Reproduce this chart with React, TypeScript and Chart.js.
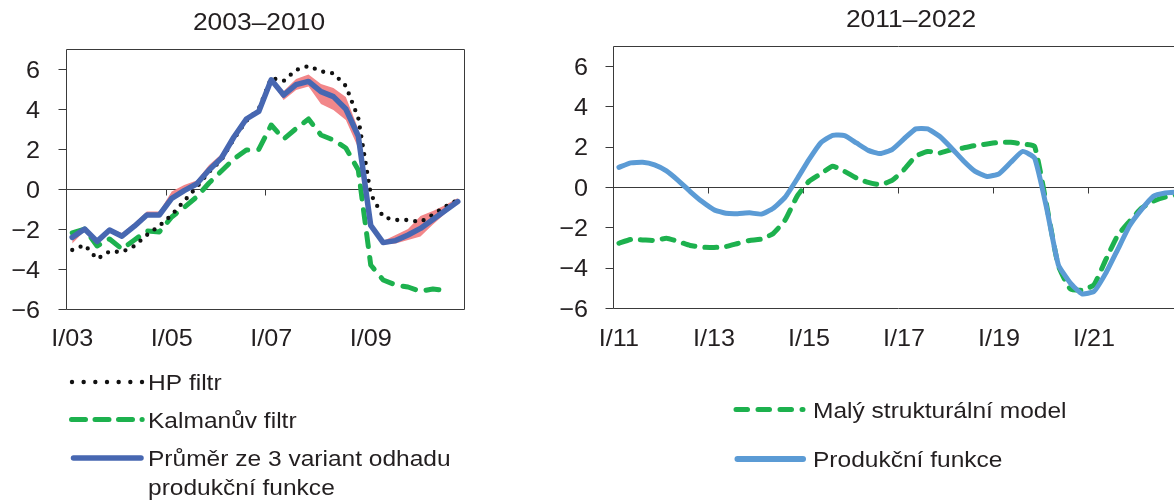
import { useEffect, useRef } from 'react';
import { Chart, registerables } from 'chart.js';

Chart.register(...registerables);

const FONT = '"Liberation Sans", Arial, Helvetica, sans-serif';
const TEXT = '#231F20';
const AXIS = '#3A3A3A';

const BLUE_DARK = '#4767B1';
const BLUE_LIGHT = '#5B9BD5';
const GREEN = '#1DB14E';
const BAND = '#F2878A';
const DOTS = '#111111';

// ---------- categories & ticks ----------
const QUARTERS = ['I', 'II', 'III', 'IV'];
const YEARS_LEFT = ['03', '04', '05', '06', '07', '08', '09', '10'];
const YEARS_RIGHT = ['11', '12', '13', '14', '15', '16', '17', '18', '19', '20', '21', '22'];
const LEFT_CATEGORIES = YEARS_LEFT.flatMap((y) => QUARTERS.map((q) => `${q}/${y}`));
const RIGHT_CATEGORIES = YEARS_RIGHT.flatMap((y) => QUARTERS.map((q) => `${q}/${y}`));

const Y_TICKS = [-6, -4, -2, 0, 2, 4, 6];
const Y_MIN = -6;
const Y_MAX = 7;
const X_LABEL_STEP = 8;

const LEFT_TITLE = '2003–2010';
const RIGHT_TITLE = '2011–2022';

// ---------- left panel series (2003–2010) ----------
const LEFT_HP = [
  -3.05, -2.8, -3.5, -3.12, -3.15, -2.85, -2.3, -1.85,
  -1.3, -0.6, 0.08, 0.85, 1.45, 2.5, 3.4, 4.0,
  5.55, 5.4, 5.95, 6.15, 5.88, 5.78, 5.15, 3.55,
  -0.25, -1.4, -1.55, -1.55, -1.65, -1.28, -0.88, -0.55,
];
const LEFT_KALMAN = [
  -2.2, -2.0, -2.85, -2.5, -3.0, -2.55, -2.1, -2.15,
  -1.4, -0.92, -0.4, 0.3, 0.9, 1.5, 1.95, 1.98,
  3.2, 2.5, 3.02, 3.5, 2.7, 2.45, 2.05, 0.95,
  -3.8, -4.55, -4.8, -4.9, -5.12, -5.0, -5.08, null,
];
const LEFT_PF_AVG = [
  -2.42, -2.0, -2.62, -2.05, -2.36, -1.86, -1.3, -1.3,
  -0.47, -0.08, 0.25, 0.95, 1.55, 2.6, 3.5, 3.88,
  5.46, 4.7, 5.22, 5.38, 4.87, 4.62, 4.0, 2.65,
  -1.82, -2.68, -2.58, -2.3, -1.97, -1.52, -1.08, -0.63,
];
const LEFT_PF_MAX = [
  -2.3, -1.92, -2.55, -1.98, -2.2, -1.7, -1.12, -1.12,
  -0.12, 0.2, 0.42, 1.2, 1.75, 2.8, 3.6, 4.0,
  5.55, 4.9, 5.5, 5.72, 5.25, 5.05, 4.6, 3.0,
  -1.7, -2.6, -2.3, -2.0, -1.35, -1.1, -0.8, -0.45,
];
const LEFT_PF_MIN = [
  -2.72, -2.1, -2.72, -2.12, -2.42, -1.92, -1.38, -1.4,
  -0.55, -0.15, 0.18, 0.88, 1.48, 2.55, 3.42, 3.82,
  5.38, 4.45, 4.95, 5.12, 4.25, 3.95, 3.45, 2.05,
  -1.9, -2.78, -2.72, -2.55, -2.38, -1.78, -1.22, -0.72,
];

// ---------- right panel series (2011–2022) ----------
const RIGHT_MSM = [
  -2.79, -2.6, -2.62, -2.65, -2.54, -2.7, -2.9, -2.98,
  -3.0, -2.95, -2.8, -2.65, -2.58, -2.3, -1.63, -0.46,
  0.28, 0.66, 1.03, 0.78, 0.45, 0.23, 0.12, 0.33,
  0.86, 1.53, 1.77, 1.69, 1.86, 1.94, 2.06, 2.14,
  2.22, 2.22, 2.14, 2.02, -0.85, -3.9, -5.05, -5.12,
  -4.85, -3.6, -2.4, -1.7, -1.05, -0.7, -0.5, -0.4,
];
const RIGHT_PF = [
  0.98, 1.2, 1.23, 1.1, 0.8, 0.32, -0.22, -0.72,
  -1.12, -1.3, -1.32, -1.28, -1.34, -1.05, -0.5, 0.4,
  1.36, 2.2, 2.57, 2.55, 2.19, 1.82, 1.66, 1.86,
  2.39, 2.89, 2.89, 2.52, 1.94, 1.31, 0.78, 0.53,
  0.66, 1.23, 1.77, 1.44, -1.0, -3.85, -4.75, -5.3,
  -5.18, -4.27, -3.1, -1.92, -1.12, -0.46, -0.29, -0.25,
];

// ---------- legend texts ----------
const LEGEND_HP = 'HP filtr';
const LEGEND_KALMAN = 'Kalmanův filtr';
const LEGEND_PF_AVG = ['Průměr ze 3 variant odhadu', 'produkční funkce'];
const LEGEND_MSM = 'Malý strukturální model';
const LEGEND_PF = 'Produkční funkce';

type Align = 'left' | 'center' | 'right';

function drawText(
  ctx: CanvasRenderingContext2D,
  text: string,
  x: number,
  yCenter: number,
  size: number,
  sx: number,
  align: Align,
) {
  ctx.save();
  ctx.font = `${size}px ${FONT}`;
  ctx.fillStyle = TEXT;
  ctx.textBaseline = 'alphabetic';
  ctx.textAlign = 'left';
  const w = ctx.measureText(text).width * sx;
  let left = x;
  if (align === 'center') left = x - w / 2;
  else if (align === 'right') left = x - w;
  ctx.translate(left, yCenter + size * 0.358);
  ctx.scale(sx, 1);
  ctx.fillText(text, 0, 0);
  ctx.restore();
}

type LegendItem = {
  kind: 'dots' | 'dash' | 'solid';
  color: string;
  x1: number;
  x2: number;
  y: number;
  width: number;
  dash?: number[];
  lines: string[];
  textX: number;
  textY: number;
  lineGap: number;
};

type PanelCfg = {
  title: string;
  titleX: number;
  titleY: number;
  yLabelGap: number;
  legend: LegendItem[];
};

const TITLE_SIZE = 24;
const TITLE_SX = 1.1;
const TICK_SIZE = 24;
const TICK_SX = 1.05;
const LEG_SIZE = 22.5;
const LEG_SX = 1.09;

function makeDeco(cfg: PanelCfg) {
  return {
    id: 'deco',
    beforeDatasetsDraw(chart: any) {
      const { ctx, chartArea: a, scales } = chart;
      const xs = scales.x;
      const y0 = Math.round(scales.y.getPixelForValue(0)) + 0.5;
      ctx.save();
      ctx.strokeStyle = AXIS;
      ctx.lineWidth = 1;
      ctx.beginPath();
      ctx.moveTo(a.left, y0);
      ctx.lineTo(a.right, y0);
      const n = chart.data.labels.length;
      for (let i = X_LABEL_STEP; i < n; i += X_LABEL_STEP) {
        const xb = Math.round((xs.getPixelForValue(i - 1) + xs.getPixelForValue(i)) / 2) + 0.5;
        ctx.moveTo(xb, y0);
        ctx.lineTo(xb, y0 + 6);
      }
      ctx.stroke();
      ctx.restore();
    },
    afterDatasetsDraw(chart: any) {
      const { ctx, chartArea: a, scales } = chart;
      const xs = scales.x;
      const ys = scales.y;
      ctx.save();
      ctx.strokeStyle = AXIS;
      ctx.lineWidth = 1;
      const L = Math.round(a.left) + 0.5;
      const T = Math.round(a.top) + 0.5;
      const R = Math.round(a.right) + 0.5;
      const B = Math.round(a.bottom) + 0.5;
      ctx.beginPath();
      ctx.moveTo(R, T);
      ctx.lineTo(L, T);
      ctx.lineTo(L, B);
      ctx.lineTo(R, B);
      ctx.lineTo(R, T);
      for (const v of Y_TICKS) {
        const yy = Math.round(ys.getPixelForValue(v)) + 0.5;
        ctx.moveTo(L - 8, yy);
        ctx.lineTo(L, yy);
      }
      ctx.stroke();
      ctx.restore();

      for (const v of Y_TICKS) {
        const label = v < 0 ? `−${Math.abs(v)}` : `${v}`;
        drawText(ctx, label, a.left - cfg.yLabelGap, ys.getPixelForValue(v), TICK_SIZE, TICK_SX, 'right');
      }
      const labels: string[] = chart.data.labels;
      labels.forEach((lab, i) => {
        if (i % X_LABEL_STEP === 0) {
          drawText(ctx, lab, xs.getPixelForValue(i), 337, TICK_SIZE, TICK_SX, 'center');
        }
      });

      drawText(ctx, cfg.title, cfg.titleX, cfg.titleY, TITLE_SIZE, TITLE_SX, 'center');

      for (const it of cfg.legend) {
        ctx.save();
        ctx.strokeStyle = it.color;
        ctx.fillStyle = it.color;
        if (it.kind === 'dots') {
          for (let k = 0; k < 7; k++) {
            const cx = it.x1 + (k * (it.x2 - it.x1)) / 6;
            ctx.beginPath();
            ctx.arc(cx, it.y, it.width / 2, 0, Math.PI * 2);
            ctx.fill();
          }
        } else {
          ctx.lineWidth = it.width;
          ctx.lineCap = 'round';
          ctx.setLineDash(it.dash || []);
          ctx.beginPath();
          ctx.moveTo(it.x1, it.y);
          ctx.lineTo(it.x2, it.y);
          ctx.stroke();
        }
        ctx.restore();
        it.lines.forEach((ln, k) => {
          drawText(ctx, ln, it.textX, it.textY + k * it.lineGap, LEG_SIZE, LEG_SX, 'left');
        });
      }
    },
  };
}

function baseOptions(padding: { left: number; top: number; right: number; bottom: number }) {
  return {
    responsive: false,
    animation: false as const,
    events: [] as any[],
    layout: { padding },
    plugins: {
      legend: { display: false },
      title: { display: false },
      tooltip: { enabled: false },
    },
    elements: { point: { radius: 0 } },
    scales: {
      x: { type: 'category' as const, display: false, offset: true },
      y: { type: 'linear' as const, display: false, min: Y_MIN, max: Y_MAX },
    },
  };
}

function leftConfig(): any {
  return {
    type: 'line',
    data: {
      labels: LEFT_CATEGORIES,
      datasets: [
        {
          label: LEGEND_PF_AVG.join(' '),
          data: LEFT_PF_AVG,
          borderColor: BLUE_DARK,
          borderWidth: 5.5,
          borderJoinStyle: 'round',
          borderCapStyle: 'round',
          tension: 0,
          fill: false,
        },
        {
          label: LEGEND_HP,
          data: LEFT_HP,
          borderColor: DOTS,
          borderWidth: 4.3,
          borderDash: [0, 9],
          borderCapStyle: 'round',
          tension: 0,
          fill: false,
        },
        {
          label: LEGEND_KALMAN,
          data: LEFT_KALMAN,
          borderColor: GREEN,
          borderWidth: 5,
          borderDash: [13, 11],
          borderCapStyle: 'round',
          borderJoinStyle: 'round',
          tension: 0,
          fill: false,
        },
        {
          label: 'max',
          data: LEFT_PF_MAX,
          borderColor: 'rgba(0,0,0,0)',
          borderWidth: 0,
          backgroundColor: BAND,
          fill: '+1',
          tension: 0,
        },
        {
          label: 'min',
          data: LEFT_PF_MIN,
          borderColor: 'rgba(0,0,0,0)',
          borderWidth: 0,
          fill: false,
          tension: 0,
        },
      ],
    },
    options: baseOptions({ left: 66, top: 49, right: 96, bottom: 193 }),
    plugins: [
      makeDeco({
        title: LEFT_TITLE,
        titleX: 259,
        titleY: 21,
        yLabelGap: 26,
        legend: [
          { kind: 'dots', color: DOTS, x1: 72, x2: 142, y: 382, width: 4.4, lines: [LEGEND_HP], textX: 148, textY: 382, lineGap: 0 },
          { kind: 'dash', color: GREEN, x1: 71.5, x2: 142.2, y: 419.5, width: 5, dash: [14, 9.5], lines: [LEGEND_KALMAN], textX: 148, textY: 419.5, lineGap: 0 },
          { kind: 'solid', color: BLUE_DARK, x1: 73.5, x2: 141, y: 458, width: 5.5, lines: LEGEND_PF_AVG, textX: 148, textY: 458, lineGap: 29 },
        ],
      }),
    ],
  };
}

function rightConfig(): any {
  return {
    type: 'line',
    data: {
      labels: RIGHT_CATEGORIES,
      datasets: [
        {
          label: LEGEND_PF,
          data: RIGHT_PF,
          borderColor: BLUE_LIGHT,
          borderWidth: 5,
          borderJoinStyle: 'round',
          borderCapStyle: 'round',
          tension: 0.15,
          fill: false,
        },
        {
          label: LEGEND_MSM,
          data: RIGHT_MSM,
          borderColor: GREEN,
          borderWidth: 5,
          borderDash: [12, 10],
          borderCapStyle: 'round',
          borderJoinStyle: 'round',
          tension: 0.15,
          fill: false,
        },
      ],
    },
    options: baseOptions({ left: 73, top: 46, right: 17, bottom: 194 }),
    plugins: [
      makeDeco({
        title: RIGHT_TITLE,
        titleX: 371,
        titleY: 18,
        yLabelGap: 25,
        legend: [
          { kind: 'dash', color: GREEN, x1: 196, x2: 263, y: 409.5, width: 5, dash: [11.5, 10.5], lines: [LEGEND_MSM], textX: 273, textY: 410, lineGap: 0 },
          { kind: 'solid', color: BLUE_LIGHT, x1: 197.5, x2: 263, y: 459, width: 6, lines: [LEGEND_PF], textX: 273, textY: 458.5, lineGap: 0 },
        ],
      }),
    ],
  };
}

export default function App() {
  const leftRef = useRef<HTMLCanvasElement>(null);
  const rightRef = useRef<HTMLCanvasElement>(null);

  useEffect(() => {
    const charts: Chart[] = [];
    if (leftRef.current) charts.push(new Chart(leftRef.current, leftConfig()));
    if (rightRef.current) charts.push(new Chart(rightRef.current, rightConfig()));
    return () => {
      charts.forEach((c) => c.destroy());
    };
  }, []);

  return (
    <div
      style={{
        position: 'fixed',
        left: 0,
        top: 0,
        width: 1174,
        height: 502,
        overflow: 'hidden',
        background: '#ffffff',
      }}
    >
      <canvas ref={leftRef} width={560} height={502} style={{ position: 'absolute', left: 0, top: 0 }} />
      <canvas ref={rightRef} width={660} height={502} style={{ position: 'absolute', left: 540, top: 0 }} />
    </div>
  );
}
